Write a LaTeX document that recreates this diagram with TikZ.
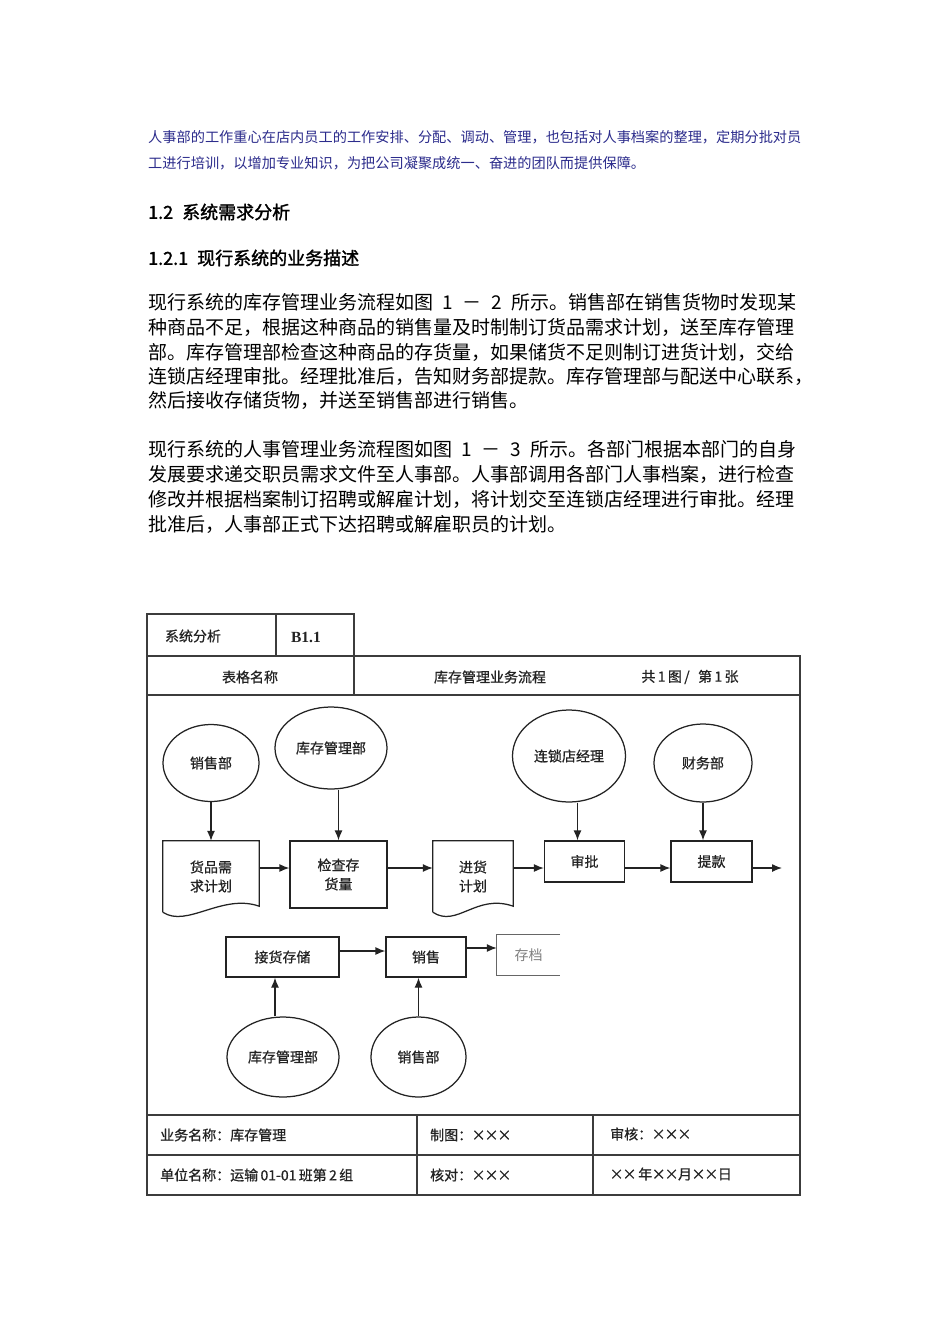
\documentclass[tikz,border=0pt]{standalone}
\usepackage{fontspec}
\setmainfont{Noto Sans CJK SC}
\newfontfamily\hfont[FakeBold=1.5]{Noto Sans CJK SC}
\newfontfamily\dfont[FakeBold=0.7]{Noto Sans CJK SC}
\newfontfamily\serfont{Liberation Serif}
\usetikzlibrary{shapes.geometric,arrows.meta,calc}
\definecolor{navy}{RGB}{44,44,140}
\definecolor{ink}{RGB}{35,35,35}
\definecolor{frameline}{RGB}{60,60,60}
\newcommand\XX{\makebox[0.92em]{×}}
\newcommand\docpath[1]{\draw[dline] (#1.south west) -- (#1.north west) -- (#1.north east) -- ($(#1.south east)+(0,-6)$) .. controls ($(#1.south east)+(-37,-19)$) and ($(#1.south west)+(24,16)$) .. (#1.south west);}
\begin{document}
\begin{tikzpicture}[x=1pt,y=-1pt,
  blueline/.style={anchor=west,inner sep=0pt,text=navy,font=\fontsize{14.2}{17}\selectfont},
  headline/.style={anchor=west,inner sep=0pt,text=black,font=\hfont\fontsize{18}{22}\selectfont},
  bodyline/.style={anchor=west,inner sep=0pt,text=black,font=\fontsize{19}{24}\selectfont},
  fline/.style={draw=frameline,line width=1.4pt},
  dline/.style={draw=ink,line width=1.25pt},
  lab/.style={inner sep=0pt,text=ink,font=\dfont\fontsize{14}{19}\selectfont,align=center},
  tlab/.style={anchor=west,inner sep=0pt,text=ink,font=\dfont\fontsize{14}{19}\selectfont},
  ell/.style={ellipse,draw=ink,line width=1.25pt,inner sep=0pt,text=ink,font=\dfont\fontsize{14}{19}\selectfont},
  proc/.style={rectangle,draw=ink,line width=1.25pt,inner sep=0pt,text=ink,font=\dfont\fontsize{14}{19}\selectfont,align=center},
  docnode/.style={rectangle,draw=none,inner sep=0pt,text=ink,font=\dfont\fontsize{14}{19}\selectfont,align=center},
  arr/.style={draw=ink,line width=1.25pt,-{Latex[length=10pt,width=8pt]}}
]
\useasboundingbox[fill=white] (0,0) rectangle (950,1344);

% ---- text above the diagram ----
\node[blueline] (b1) at (148,137) {人事部的工作重心在店内员工的工作安排、分配、调动、管理，也包括对人事档案的整理，定期分批对员};
\node[blueline] (b2) at (148,163) {工进行培训，以增加专业知识，为把公司凝聚成统一、奋进的团队而提供保障。};

\node[headline] (h1) at (148,212) {1.2\hspace{0.5em}系统需求分析};
\node[headline] (h2) at (148,258) {1.2.1\hspace{0.5em}现行系统的业务描述};

\node[bodyline] (p1) at (148,302) {现行系统的库存管理业务流程如图\hspace{0.5em}1\hspace{0.5em}－\hspace{0.5em}2\hspace{0.5em}所示。销售部在销售货物时发现某};
\node[bodyline] (p2) at (148,327) {种商品不足，根据这种商品的销售量及时制制订货品需求计划，送至库存管理};
\node[bodyline] (p3) at (148,352) {部。库存管理部检查这种商品的存货量，如果储货不足则制订进货计划，交给};
\node[bodyline] (p4) at (148,376) {连锁店经理审批。经理批准后，告知财务部提款。库存管理部与配送中心联系，};
\node[bodyline] (p5) at (148,400) {然后接收存储货物，并送至销售部进行销售。};

\node[bodyline] (q1) at (148,449) {现行系统的人事管理业务流程图如图\hspace{0.5em}1\hspace{0.5em}－\hspace{0.5em}3\hspace{0.5em}所示。各部门根据本部门的自身};
\node[bodyline] (q2) at (148,474) {发展要求递交职员需求文件至人事部。人事部调用各部门人事档案，进行检查};
\node[bodyline] (q3) at (148,499) {修改并根据档案制订招聘或解雇计划，将计划交至连锁店经理进行审批。经理};
\node[bodyline] (q4) at (148,524) {批准后，人事部正式下达招聘或解雇职员的计划。};

% ---- form frame ----
\draw[fline] (147,614) rectangle (354,656);
\draw[fline] (276,614) -- (276,656);
\draw[fline] (147,656) rectangle (800,695);
\draw[fline] (354,656) -- (354,695);
\draw[fline] (147,695) rectangle (800,1115);
\draw[fline] (147,1115) rectangle (800,1195);
\draw[fline] (147,1155) -- (800,1155);
\draw[fline] (417,1115) -- (417,1195);
\draw[fline] (593,1115) -- (593,1195);

\node[lab] (t1) at (193,636) {系统分析};
\node[lab,font=\serfont\bfseries\fontsize{15.5}{18}\selectfont] (t2) at (306,637) {B1.1};
\node[lab] (t3) at (250,677) {表格名称};
\node[lab] (t4) at (490,677) {库存管理业务流程};
\node[lab] (t5) at (690,677) {共\,1\,图\,/\hspace{0.6em}第\,1\,张};

\node[tlab] (f1) at (160,1135) {业务名称：库存管理};
\node[tlab] (f2) at (430,1135) {制图：\XX\XX\XX};
\node[tlab] (f3) at (610,1134) {审核：\XX\XX\XX};
\node[tlab] (f4) at (160,1175) {单位名称：运输\,01-01\,班第\,2\,组};
\node[tlab] (f5) at (430,1175) {核对：\XX\XX\XX};
\node[tlab] (f6) at (610,1174) {\XX\XX\,年\XX\XX 月\XX\XX 日};

% ---- upper flow ----
\node[ell,minimum width=96,minimum height=77] (sales1) at (211,763) {销售部};
\node[ell,minimum width=112,minimum height=82] (stock1) at (331,748) {库存管理部};
\node[ell,minimum width=113,minimum height=92] (mgr) at (569,756) {连锁店经理};
\node[ell,minimum width=98,minimum height=78] (fin) at (703,763) {财务部};

\node[docnode,minimum width=96,minimum height=71] (dem) at (211,876.5) {货品需\\求计划};
\docpath{dem}
\node[proc,minimum width=97,minimum height=67] (chk) at (338.5,874.5) {检查存\\货量};
\node[docnode,minimum width=80,minimum height=71] (plan) at (473,876.5) {进货\\计划};
\docpath{plan}
\node[proc,minimum width=80,minimum height=41] (appr) at (584.5,861.5) {审批};
\node[proc,minimum width=81,minimum height=41] (pay) at (711.5,861.5) {提款};

\coordinate (hy) at (0,868);
\coordinate (out) at (782,868);

\draw[arr] (sales1.south) -- (dem.north);
\draw[arr] (chk.north |- stock1.south) -- (chk.north);
\draw[arr] ([xshift=-7pt]appr.north |- mgr.south) -- ([xshift=-7pt]appr.north);
\draw[arr] (fin.south) -- (fin.south |- pay.north);

\draw[arr] (dem.east |- hy) -- (chk.west |- hy);
\draw[arr] (chk.east |- hy) -- (plan.west |- hy);
\draw[arr] (plan.east |- hy) -- (appr.west |- hy);
\draw[arr] (appr.east |- hy) -- (pay.west |- hy);
\draw[arr] (pay.east |- hy) -- (out);

% ---- lower flow ----
\node[proc,minimum width=113,minimum height=40] (recv) at (282.5,957) {接货存储};
\node[proc,minimum width=80,minimum height=40] (sell) at (426,957) {销售};
\node[docnode,minimum width=63,minimum height=40,text=gray,font=\fontsize{14}{19}\selectfont\itshape] (arch) at (528.5,955) {存档};
\draw[dline,draw=gray!80!black] (arch.north east) -- (arch.north west) -- (arch.south west) -- (arch.south east);

\node[ell,minimum width=112,minimum height=80] (stock2) at (283,1057) {库存管理部};
\node[ell,minimum width=95,minimum height=80] (sales2) at (418.5,1057) {销售部};

\coordinate (ya) at (0,951);
\coordinate (yb) at (0,948);
\draw[arr] (recv.east |- ya) -- (sell.west |- ya);
\draw[arr] (sell.east |- yb) -- (arch.west |- yb);
\draw[arr] ([xshift=-8pt]stock2.north) -- ([xshift=-8pt]stock2.north |- recv.south);
\draw[arr] (sales2.north) -- (sales2.north |- sell.south);
\end{tikzpicture}
\end{document}
